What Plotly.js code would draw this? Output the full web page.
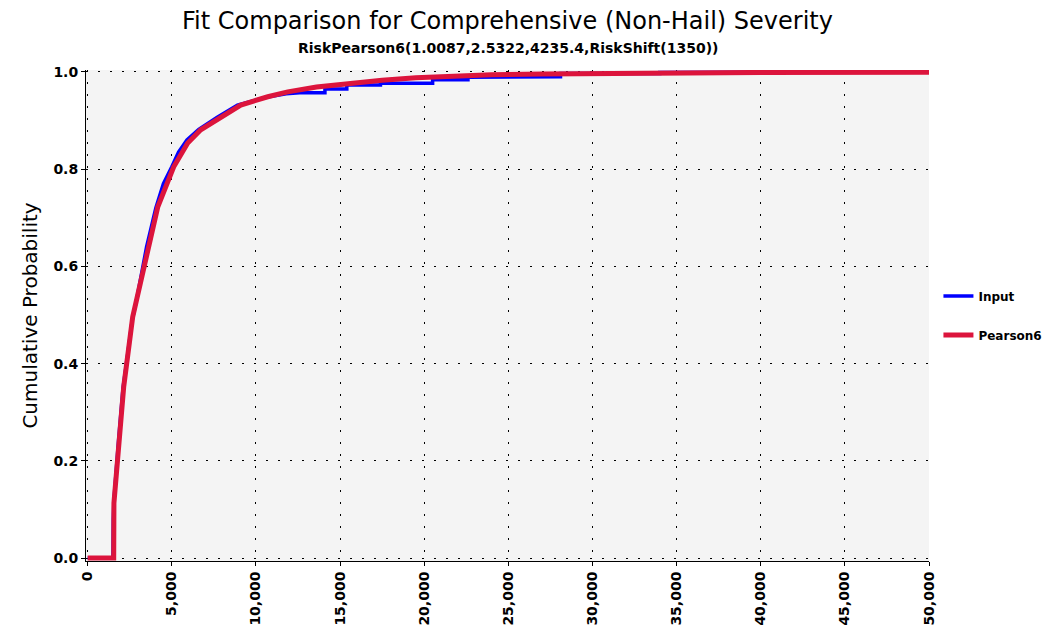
<!DOCTYPE html>
<html>
<head>
<meta charset="utf-8">
<script src="https://cdn.plot.ly/plotly-3.0.1.min.js"></script>
<style>html,body{margin:0;padding:0;background:#fff;}#chart{width:1058px;height:634px;}</style>
</head>
<body>
<div id="chart"></div>
<script>
var inputX = [0, 1500, 1520, 1560, 1830, 2100, 2300, 2650, 2900, 3100, 3500, 4050, 4500, 5000, 5400, 5900, 6600, 7700, 8900, 10600, 11800, 12600, 14100, 14100, 15400, 15400, 17400, 17400, 20500, 20500, 22600, 22600, 26700, 26700, 28100, 28100, 34000, 34000, 45000, 45000, 50000];
var inputP = [0, 0, 0.08, 0.12, 0.24, 0.35, 0.40, 0.49, 0.53, 0.57, 0.64, 0.72, 0.77, 0.805, 0.835, 0.86, 0.882, 0.907, 0.932, 0.948, 0.955, 0.957, 0.957, 0.965, 0.965, 0.973, 0.973, 0.977, 0.977, 0.984, 0.984, 0.989, 0.989, 0.990, 0.990, 0.997, 0.997, 0.999, 0.999, 1.0, 1.0];

// Fitted Pearson6 cumulative curve
var fitX = [0, 1546, 1560, 1843, 2140, 2675, 3151, 3567, 4162, 5113, 5945, 6718, 7907, 9096, 10702, 11891, 13600, 15500, 17500, 19500, 21500, 24000, 27000, 32000, 40000, 50000];
var fitP = [0, 0, 0.113, 0.237, 0.352, 0.496, 0.566, 0.634, 0.722, 0.805, 0.854, 0.881, 0.907, 0.932, 0.949, 0.959, 0.969, 0.977, 0.983, 0.988, 0.991, 0.994, 0.996, 0.998, 0.999, 0.9995];

var xTicks = [0, 5000, 10000, 15000, 20000, 25000, 30000, 35000, 40000, 45000, 50000];
var yTicks = [0.0, 0.2, 0.4, 0.6, 0.8, 1.0];

var titleText = 'Fit Comparison for Comprehensive (Non-Hail) Severity';
var subtitleText = 'RiskPearson6(1.0087,2.5322,4235.4,RiskShift(1350))';

var traces = [
  {x: inputX, y: inputP, type: 'scatter', mode: 'lines', name: 'Input', legendgroup: 'a',
   line: {color: '#0000ff', width: 3.5}},
  {x: fitX, y: fitP, type: 'scatter', mode: 'lines', name: 'Pearson6', legendgroup: 'b',
   line: {color: '#dc143c', width: 5}}
];

var layout = {
  width: 1058, height: 634,
  margin: {l: 86, r: 128, t: 70, b: 73},
  paper_bgcolor: '#ffffff',
  plot_bgcolor: '#f4f4f4',
  font: {family: 'DejaVu Sans', color: '#000'},
  title: {text: titleText, x: 0.5, xref: 'paper', y: 0.968, yref: 'container', yanchor: 'middle',
          font: {size: 24, family: 'DejaVu Sans', color: '#000'}},
  annotations: [{text: '<b>' + subtitleText + '</b>', xref: 'paper', yref: 'paper', x: 0.5, y: 1.045,
                 showarrow: false, xanchor: 'center', yanchor: 'middle',
                 font: {size: 14, family: 'DejaVu Sans', color: '#000'}}],
  xaxis: {range: [-100, 50000], tickvals: xTicks, tickformat: ',d', tickangle: -90,
          ticks: 'outside', ticklen: 4, tickcolor: '#000', showline: true, linecolor: '#000', linewidth: 1,
          showgrid: true, gridcolor: '#000', griddash: '2px,10px', gridwidth: 1, zeroline: false,
          tickfont: {size: 14, family: 'DejaVu Sans', color: '#000', weight: 'bold'}},
  yaxis: {range: [-0.006, 1.004], tickvals: yTicks, tickformat: '.1f',
          ticks: 'outside', ticklen: 4, tickcolor: '#000', showline: true, linecolor: '#000', linewidth: 1,
          showgrid: true, gridcolor: '#000', griddash: '2px,10px', gridwidth: 1, zeroline: false,
          tickfont: {size: 14, family: 'DejaVu Sans', color: '#000', weight: 'bold'},
          title: {text: 'Cumulative Probability', standoff: 10, font: {size: 20, family: 'DejaVu Sans', color: '#000'}}},
  showlegend: true,
  legend: {x: 1.01, xanchor: 'left', y: 0.50, yanchor: 'middle', tracegroupgap: 20,
           bgcolor: 'rgba(0,0,0,0)', font: {size: 12, family: 'DejaVu Sans', color: '#000', weight: 'bold'}}
};

Plotly.newPlot('chart', traces, layout, {displayModeBar: false, staticPlot: true});
</script>
</body>
</html>
